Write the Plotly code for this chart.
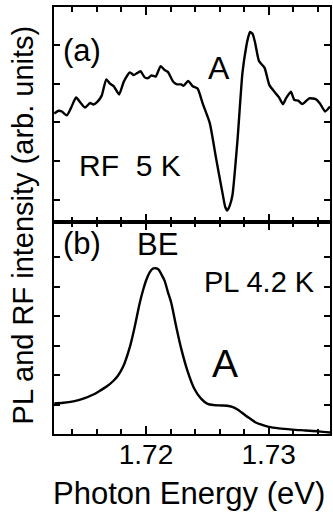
import plotly.graph_objects as go
from plotly.subplots import make_subplots

# Panel (a): RF spectrum at 5 K (arb. units)
rf_energy = [1.71252, 1.71287, 1.71314, 1.71355, 1.71387, 1.71430, 1.71468, 1.71503, 1.71544, 1.71571,
             1.71603, 1.71639, 1.71676, 1.71706, 1.71738, 1.71781, 1.71819, 1.71868, 1.71900, 1.71927,
             1.71955, 1.71989, 1.72016, 1.72044, 1.72079, 1.72119, 1.72152, 1.72178, 1.72224, 1.72254,
             1.72287, 1.72306, 1.72344, 1.72381, 1.72421, 1.72464, 1.72520, 1.72571, 1.72624, 1.72646,
             1.72662, 1.72682, 1.72705, 1.72746, 1.72786, 1.72818, 1.72832, 1.72848, 1.72869, 1.72889,
             1.72921, 1.72966, 1.73006, 1.73055, 1.73083, 1.73116, 1.73143, 1.73181, 1.73209, 1.73241,
             1.73274, 1.73331, 1.73383, 1.73418, 1.73460, 1.73500]
rf_signal = [2.23, 2.30, 2.28, 2.18, 2.36, 2.64, 2.50, 2.38, 2.50, 2.46,
             2.53, 2.69, 3.11, 3.00, 2.93, 2.72, 3.05, 3.29, 3.22, 3.27,
             3.32, 3.16, 3.14, 3.21, 3.18, 3.45, 3.35, 3.30, 3.04, 2.98,
             2.98, 2.94, 3.07, 2.93, 2.87, 2.47, 1.98, 1.08, 0.17, -0.18,
             -0.27, -0.15, 0.13, 1.55, 3.27, 3.97, 4.18, 4.33, 4.28, 4.06,
             3.58, 3.41, 2.96, 2.76, 2.65, 2.47, 2.63, 2.79, 2.58, 2.56,
             2.47, 2.62, 2.60, 2.49, 2.28, 2.41]

# Panel (b): PL spectrum at 4.2 K (arb. units)
pl_energy = [1.71252, 1.71327, 1.71408, 1.71489, 1.71571, 1.71625, 1.71679, 1.71733, 1.71771, 1.71814,
             1.71868, 1.71908, 1.71949, 1.71977, 1.72003, 1.72030, 1.72054, 1.72079, 1.72103, 1.72127,
             1.72152, 1.72178, 1.72206, 1.72246, 1.72287, 1.72340, 1.72395, 1.72449, 1.72502, 1.72557,
             1.72613, 1.72662, 1.72703, 1.72746, 1.72780, 1.72814, 1.72853, 1.72895, 1.72946, 1.73002,
             1.73083, 1.73191, 1.73300, 1.73408, 1.73500]
pl_signal = [1.04, 1.06, 1.11, 1.20, 1.34, 1.47, 1.61, 1.80, 1.98, 2.29,
             2.95, 3.64, 4.45, 4.90, 5.24, 5.49, 5.61, 5.63, 5.58, 5.41,
             5.20, 4.83, 4.45, 3.65, 2.90, 2.12, 1.53, 1.20, 1.02, 0.98,
             0.97, 0.96, 0.92, 0.83, 0.73, 0.62, 0.51, 0.39, 0.31, 0.24,
             0.19, 0.15, 0.12, 0.09, 0.05]

x_tick_vals = [1.72, 1.73]
x_tick_text = ["1.72", "1.73"]
rf_ticks = [0, 1, 2, 3, 4]
pl_ticks = [1, 2, 3, 4, 5, 6]

FONT = "Liberation Sans, Arial, Helvetica, sans-serif"

fig = make_subplots(rows=2, cols=1, shared_xaxes=True, vertical_spacing=0)

fig.add_trace(go.Scatter(x=rf_energy, y=rf_signal, mode="lines",
                         line=dict(color="black", width=2.4, shape="spline", smoothing=0.5),
                         showlegend=False), row=1, col=1)
fig.add_trace(go.Scatter(x=pl_energy, y=pl_signal, mode="lines",
                         line=dict(color="black", width=2.4, shape="spline", smoothing=0.8),
                         showlegend=False), row=2, col=1)

xcommon = dict(range=[1.7125, 1.735], showline=True, linecolor="black", linewidth=2,
               mirror="allticks", ticks="inside", ticklen=8, tickwidth=1.5, tickcolor="black",
               tickvals=x_tick_vals, ticktext=x_tick_text, showgrid=False, zeroline=False,
               minor=dict(dtick=0.002, tick0=1.72, ticks="inside", ticklen=5, tickwidth=1.5,
                          tickcolor="black", showgrid=False))
fig.update_xaxes(**xcommon, showticklabels=False, row=1, col=1)
fig.update_xaxes(**xcommon, showticklabels=True, tickfont=dict(family=FONT, size=28, color="black"),
                 ticklabelstandoff=-6, row=2, col=1)

ycommon = dict(showline=True, linecolor="black", linewidth=2, mirror="allticks", ticks="inside",
               ticklen=6, tickwidth=1.5, tickcolor="black", showticklabels=False,
               showgrid=False, zeroline=False)
fig.update_yaxes(**ycommon, range=[-0.567, 4.974], tickvals=rf_ticks, domain=[0.4965, 1], row=1, col=1)
fig.update_yaxes(**ycommon, range=[0, 7.2], tickvals=pl_ticks, domain=[0, 0.4965], row=2, col=1)

def ann(text, x, y, size, angle=0):
    return dict(text=text, x=x, y=y, xref="paper", yref="paper", showarrow=False,
                xanchor="center", yanchor="middle", textangle=angle,
                font=dict(family=FONT, size=size, color="black"))

fig.update_layout(
    width=333, height=513,
    margin=dict(l=54, r=1, t=7, b=79),
    paper_bgcolor="white", plot_bgcolor="white",
    annotations=[
        ann("(a)", 0.1007, 0.897, 31),
        ann("A", 0.597, 0.857, 32),
        ann("RF\u00a0\u00a05 K", 0.277, 0.628, 30),
        ann("(b)", 0.1025, 0.445, 31),
        ann("BE", 0.374, 0.443, 31),
        ann("PL 4.2 K", 0.746, 0.357, 29),
        ann("A", 0.621, 0.164, 39),
        ann("PL and RF intensity (arb. units)", -0.1115, 0.489, 29, angle=-90),
        ann("Photon Energy (eV)", 0.489, -0.1405, 31),
    ],
)

fig.write_html("out.html", config={"displayModeBar": False},
               post_script="document.body.style.margin='0';document.body.style.overflow='hidden';")
